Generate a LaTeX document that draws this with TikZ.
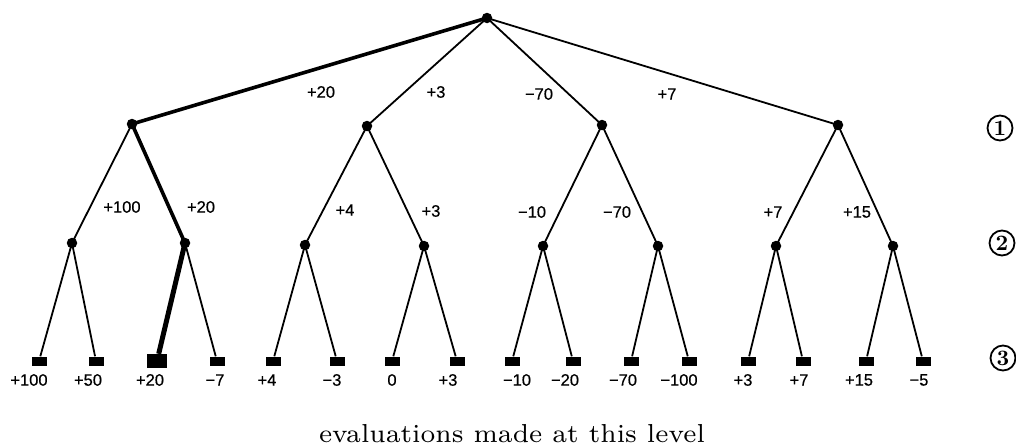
\documentclass[tikz,border=0pt]{standalone}
\usepackage{fontspec}
\newfontfamily\labfont[FakeBold=0.6]{Liberation Sans}
\newfontfamily\capfont[Ligatures=TeX]{lmroman7-regular.otf}
\newfontfamily\numfont[Ligatures=TeX]{lmroman10-bold.otf}
\begin{document}
\begin{tikzpicture}[x=1pt,y=-1pt,
  inner/.style={circle,fill=black,inner sep=0pt,minimum size=10.5pt},
  leaf/.style={rectangle,fill=black,inner sep=0pt,minimum width=15pt,minimum height=9pt},
  bigleaf/.style={rectangle,fill=black,inner sep=0pt,minimum width=20pt,minimum height=14pt},
  edge/.style={line width=1.8pt},
  thick1/.style={line width=3.6pt},
  thick2/.style={line width=5pt},
  lab/.style={font=\labfont\fontsize{16.5}{16.5}\selectfont,inner sep=0pt},
  circnum/.style={circle,draw,line width=1.8pt,inner sep=0pt,minimum size=25pt,font=\numfont\fontsize{22}{22}\selectfont}]
\useasboundingbox (0,0) rectangle (1016,447);
% nodes
\node[inner] (r) at (487,18) {};
\node[inner] (a) at (132,124) {};
\node[inner] (b) at (367,126) {};
\node[inner] (c) at (602,125) {};
\node[inner] (d) at (838,125) {};
\node[inner] (a1) at (72,243) {};
\node[inner] (a2) at (185,243) {};
\node[inner] (b1) at (305,245) {};
\node[inner] (b2) at (424,246) {};
\node[inner] (c1) at (543,246) {};
\node[inner] (c2) at (658,246) {};
\node[inner] (d1) at (776,246) {};
\node[inner] (d2) at (893,246) {};
\node[leaf] (l1) at (39,361) {};
\node[leaf] (l2) at (96,361) {};
\node[bigleaf] (l3) at (157,361) {};
\node[leaf] (l4) at (217,361) {};
\node[leaf] (l5) at (273,361) {};
\node[leaf] (l6) at (337,361) {};
\node[leaf] (l7) at (392,361) {};
\node[leaf] (l8) at (457,361) {};
\node[leaf] (l9) at (512,361) {};
\node[leaf] (l10) at (573,361) {};
\node[leaf] (l11) at (631,361) {};
\node[leaf] (l12) at (689,361) {};
\node[leaf] (l13) at (748,361) {};
\node[leaf] (l14) at (803,361) {};
\node[leaf] (l15) at (866,361) {};
\node[leaf] (l16) at (923,361) {};
% edges
\draw[thick1] (r.center) -- (a.center);
\draw[edge] (r.center) -- (b.center);
\draw[edge] (r.center) -- (c.center);
\draw[edge] (r.center) -- (d.center);
\draw[edge] (a.center) -- (a1.center);
\draw[thick1] (a.center) -- (a2.center);
\draw[edge] (b.center) -- (b1.center);
\draw[edge] (b.center) -- (b2.center);
\draw[edge] (c.center) -- (c1.center);
\draw[edge] (c.center) -- (c2.center);
\draw[edge] (d.center) -- (d1.center);
\draw[edge] (d.center) -- (d2.center);
\draw[edge] (a1.center) -- (l1);
\draw[edge] (a1.center) -- (l2);
\draw[thick2] (a2.center) -- (l3);
\draw[edge] (a2.center) -- (l4);
\draw[edge] (b1.center) -- (l5);
\draw[edge] (b1.center) -- (l6);
\draw[edge] (b2.center) -- (l7);
\draw[edge] (b2.center) -- (l8);
\draw[edge] (c1.center) -- (l9);
\draw[edge] (c1.center) -- (l10);
\draw[edge] (c2.center) -- (l11);
\draw[edge] (c2.center) -- (l12);
\draw[edge] (d1.center) -- (l13);
\draw[edge] (d1.center) -- (l14);
\draw[edge] (d2.center) -- (l15);
\draw[edge] (d2.center) -- (l16);
% edge labels
\node[lab] (e1) at (321,92) {+20};
\node[lab] (e2) at (436,92) {+3};
\node[lab] (e3) at (539,94) {−70};
\node[lab] (e4) at (667,94) {+7};
\node[lab] (f1) at (122,207) {+100};
\node[lab] (f2) at (201,207) {+20};
\node[lab] (f3) at (345,210) {+4};
\node[lab] (f4) at (431,211) {+3};
\node[lab] (f5) at (532,212) {−10};
\node[lab] (f6) at (617,212) {−70};
\node[lab] (f7) at (773,212) {+7};
\node[lab] (f8) at (857,212) {+15};
% leaf labels
\node[lab] (v1) at (29,380) {+100};
\node[lab] (v2) at (88,380) {+50};
\node[lab] (v3) at (150,380) {+20};
\node[lab] (v4) at (215,380) {−7};
\node[lab] (v5) at (267,380) {+4};
\node[lab] (v6) at (332,380) {−3};
\node[lab] (v7) at (392,380) {0};
\node[lab] (v8) at (448,380) {+3};
\node[lab] (v9) at (517,380) {−10};
\node[lab] (v10) at (565,380) {−20};
\node[lab] (v11) at (623,380) {−70};
\node[lab] (v12) at (679,380) {−100};
\node[lab] (v13) at (743,380) {+3};
\node[lab] (v14) at (799,380) {+7};
\node[lab] (v15) at (859,380) {+15};
\node[lab] (v16) at (919,380) {−5};
% level marks
\node[circnum] (n1) at (1000,128) {1};
\node[circnum] (n2) at (1002,243) {2};
\node[circnum] (n3) at (1003,358) {3};
% caption
\node[inner sep=0pt,anchor=base,font=\capfont\fontsize{26}{26}\selectfont] (cap) at (512,442) {evaluations made at this level};
\end{tikzpicture}
\end{document}
